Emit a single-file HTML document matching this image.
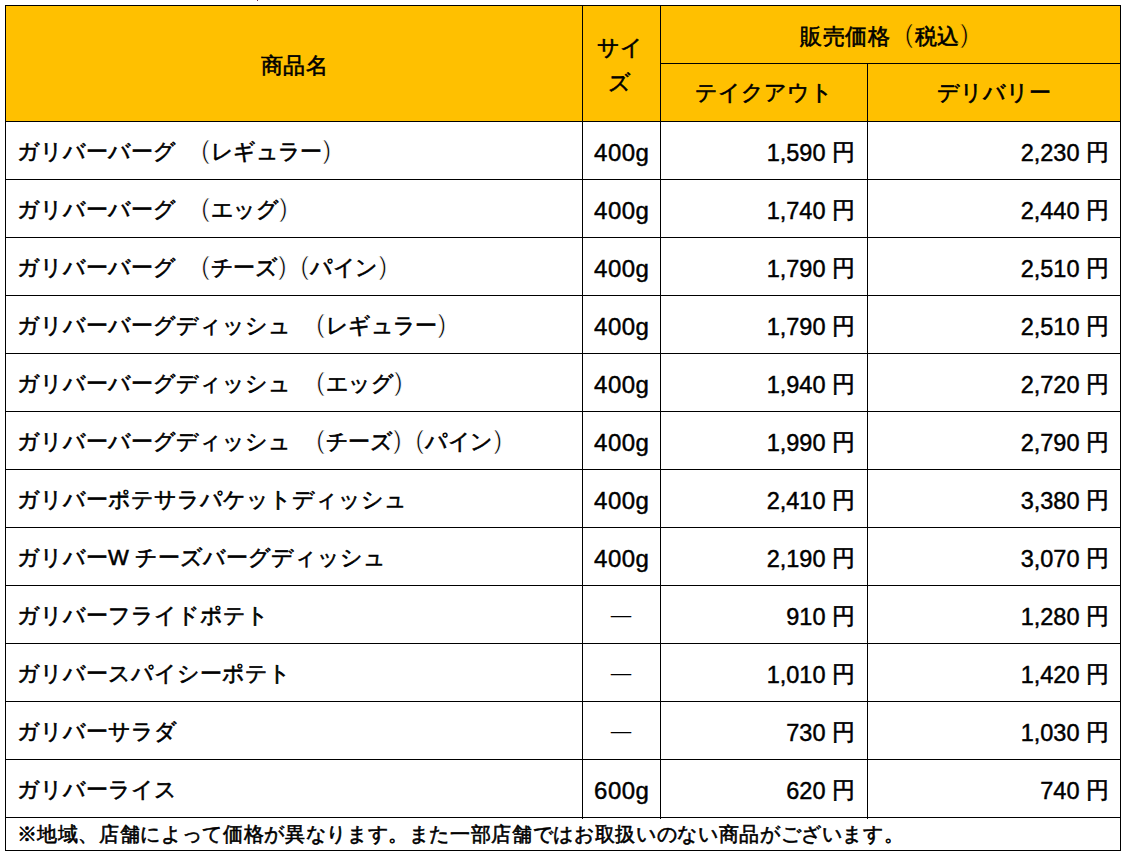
<!DOCTYPE html>
<html lang="ja"><head><meta charset="utf-8"><title>ガリバー 価格表</title>
<style>
html,body{margin:0;padding:0;background:#fff}
body{position:relative;width:1123px;height:853px;overflow:hidden;font-family:"Liberation Sans",sans-serif;color:#000}
.hd{position:absolute;left:5px;top:5px;width:1115px;height:116px;background:#ffc000}
.h{position:absolute;height:1px;background:#000}
.v{position:absolute;width:1px;background:#000}
.t{position:absolute;white-space:nowrap;font-weight:normal;line-height:30px;height:30px}
.j{-webkit-text-stroke:0.6px #000}
.n{left:17px;font-size:22px;letter-spacing:0px}
.po,.pc{line-height:0;font-size:25px;-webkit-text-stroke:0;position:relative;top:0px}
.po{margin-left:19px;margin-right:1.5px}
.pc{margin-left:1.4px;margin-right:0px}
.hp{line-height:0;font-size:25px;-webkit-text-stroke:0;position:relative;top:-1px}
.hl{letter-spacing:0.6px}
.pi{letter-spacing:-0.7px}
.po,.pc{-webkit-text-stroke:0.6px #fff}
.hp{-webkit-text-stroke:0.6px #ffc000}
.pp{margin-left:14px}
.s{-webkit-text-stroke:0.45px #000;left:582px;width:78px;text-align:center;font-size:24px;letter-spacing:0.5px;text-indent:1.5px}
.p{text-align:right;font-size:23.5px;-webkit-text-stroke:0.45px #000}
.p i{font-style:normal;font-size:22.5px;margin-left:0px;position:relative;top:-1px}
.tk{right:268px}
.dl{right:14px}
.c{text-align:center;font-size:22px}
.f{left:16.5px;top:818.5px;font-size:20px;letter-spacing:0.65px;line-height:30px}
</style></head><body>
<div class="hd"></div>
<div style="position:absolute;left:257px;top:0;width:1px;height:1px;background:#7a3048"></div>

<div class="h" style="left:5px;top:5px;width:1116px"></div>
<div class="h" style="left:660px;top:63px;width:461px"></div>
<div class="h" style="left:5px;top:121px;width:1116px"></div>
<div class="h" style="left:5px;top:179px;width:1116px"></div>
<div class="h" style="left:5px;top:237px;width:1116px"></div>
<div class="h" style="left:5px;top:295px;width:1116px"></div>
<div class="h" style="left:5px;top:353px;width:1116px"></div>
<div class="h" style="left:5px;top:411px;width:1116px"></div>
<div class="h" style="left:5px;top:469px;width:1116px"></div>
<div class="h" style="left:5px;top:527px;width:1116px"></div>
<div class="h" style="left:5px;top:585px;width:1116px"></div>
<div class="h" style="left:5px;top:643px;width:1116px"></div>
<div class="h" style="left:5px;top:701px;width:1116px"></div>
<div class="h" style="left:5px;top:759px;width:1116px"></div>
<div class="h" style="left:5px;top:817px;width:1116px"></div>
<div class="h" style="left:5px;top:850px;width:1116px"></div>
<div class="v" style="left:5px;top:5px;height:846px"></div>
<div class="v" style="left:582px;top:5px;height:814px"></div>
<div class="v" style="left:660px;top:5px;height:814px"></div>
<div class="v" style="left:867px;top:63px;height:756px"></div>
<div class="v" style="left:1120px;top:5px;height:846px"></div>
<div class="t c j hl" style="left:6px;width:577px;top:51px">商品名</div>
<div class="t c j" style="left:580.5px;width:78px;top:29.75px;line-height:35px;height:70px;white-space:normal">サイ<br>ズ</div>
<div class="t c j hl" style="left:654.75px;width:460px;top:22px">販売価格<span class="hp" style="margin-left:14px;margin-right:1px">(</span>税込<span class="hp" style="margin-left:0.5px">)</span></div>
<div class="t c j" style="left:660px;width:207px;top:78px">テイクアウト</div>
<div class="t c j" style="left:867px;width:253px;top:78px">デリバリー</div>
<div class="t n j" style="top:137px">ガリバーバーグ <span class="po">(</span><span class="pi">レギュラー</span><span class="pc">)</span></div>
<div class="t s" style="top:137.5px">400g</div>
<div class="t p tk" style="top:138px">1,590 <i class="j">円</i></div>
<div class="t p dl" style="top:138px">2,230 <i class="j">円</i></div>
<div class="t n j" style="top:195px">ガリバーバーグ <span class="po">(</span><span class="pi">エッグ</span><span class="pc">)</span></div>
<div class="t s" style="top:195.5px">400g</div>
<div class="t p tk" style="top:196px">1,740 <i class="j">円</i></div>
<div class="t p dl" style="top:196px">2,440 <i class="j">円</i></div>
<div class="t n j" style="top:253px">ガリバーバーグ <span class="po">(</span><span class="pi">チーズ</span><span class="pc">)</span><span class="po pp">(</span><span class="pi">パイン</span><span class="pc">)</span></div>
<div class="t s" style="top:253.5px">400g</div>
<div class="t p tk" style="top:254px">1,790 <i class="j">円</i></div>
<div class="t p dl" style="top:254px">2,510 <i class="j">円</i></div>
<div class="t n j" style="top:311px">ガリバーバーグディッシュ <span class="po">(</span><span class="pi">レギュラー</span><span class="pc">)</span></div>
<div class="t s" style="top:311.5px">400g</div>
<div class="t p tk" style="top:312px">1,790 <i class="j">円</i></div>
<div class="t p dl" style="top:312px">2,510 <i class="j">円</i></div>
<div class="t n j" style="top:369px">ガリバーバーグディッシュ <span class="po">(</span><span class="pi">エッグ</span><span class="pc">)</span></div>
<div class="t s" style="top:369.5px">400g</div>
<div class="t p tk" style="top:370px">1,940 <i class="j">円</i></div>
<div class="t p dl" style="top:370px">2,720 <i class="j">円</i></div>
<div class="t n j" style="top:427px">ガリバーバーグディッシュ <span class="po">(</span><span class="pi">チーズ</span><span class="pc">)</span><span class="po pp">(</span><span class="pi">パイン</span><span class="pc">)</span></div>
<div class="t s" style="top:427.5px">400g</div>
<div class="t p tk" style="top:428px">1,990 <i class="j">円</i></div>
<div class="t p dl" style="top:428px">2,790 <i class="j">円</i></div>
<div class="t n j" style="top:485px">ガリバーポテサラパケットディッシュ</div>
<div class="t s" style="top:485.5px">400g</div>
<div class="t p tk" style="top:486px">2,410 <i class="j">円</i></div>
<div class="t p dl" style="top:486px">3,380 <i class="j">円</i></div>
<div class="t n j" style="top:543px">ガリバーW チーズバーグディッシュ</div>
<div class="t s" style="top:543.5px">400g</div>
<div class="t p tk" style="top:544px">2,190 <i class="j">円</i></div>
<div class="t p dl" style="top:544px">3,070 <i class="j">円</i></div>
<div class="t n j" style="top:601px">ガリバーフライドポテト</div>
<div class="t s" style="top:599.5px;font-size:20.5px;letter-spacing:0;text-indent:0;-webkit-text-stroke:0">—</div>
<div class="t p tk" style="top:602px">910 <i class="j">円</i></div>
<div class="t p dl" style="top:602px">1,280 <i class="j">円</i></div>
<div class="t n j" style="top:659px">ガリバースパイシーポテト</div>
<div class="t s" style="top:657.5px;font-size:20.5px;letter-spacing:0;text-indent:0;-webkit-text-stroke:0">—</div>
<div class="t p tk" style="top:660px">1,010 <i class="j">円</i></div>
<div class="t p dl" style="top:660px">1,420 <i class="j">円</i></div>
<div class="t n j" style="top:717px">ガリバーサラダ</div>
<div class="t s" style="top:715.5px;font-size:20.5px;letter-spacing:0;text-indent:0;-webkit-text-stroke:0">—</div>
<div class="t p tk" style="top:718px">730 <i class="j">円</i></div>
<div class="t p dl" style="top:718px">1,030 <i class="j">円</i></div>
<div class="t n j" style="top:775px">ガリバーライス</div>
<div class="t s" style="top:775.5px">600g</div>
<div class="t p tk" style="top:776px">620 <i class="j">円</i></div>
<div class="t p dl" style="top:776px">740 <i class="j">円</i></div>
<div class="t f j">※地域、店舗によって価格が異なります。また一部店舗ではお取扱いのない商品がございます。</div>
</body></html>
